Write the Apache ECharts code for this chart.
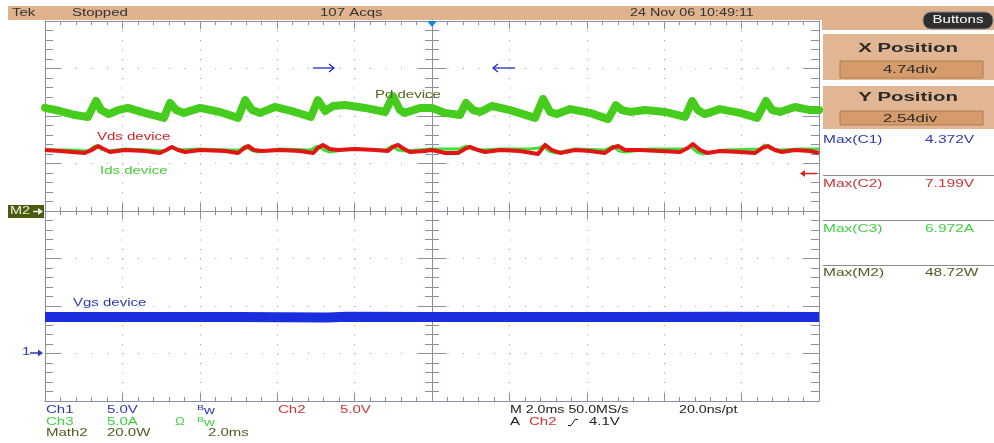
<!DOCTYPE html>
<html><head><meta charset="utf-8">
<script src="https://cdn.jsdelivr.net/npm/echarts@6/dist/echarts.min.js"></script>
<style>html,body{margin:0;padding:0;background:#fff;}#c{width:994px;height:443px;}</style>
</head><body><div id="c"></div>
<script>
// ---- data (time in ms, 2 ms/div, 10 div) ----
const pdTime = [0,0.39,0.78,1.11,1.32,1.45,1.65,1.89,2.14,2.58,3.07,3.23,3.39,3.59,4.01,4.52,4.99,5.17,5.35,5.56,5.94,6.46,6.87,7.05,7.24,7.44,7.75,8.27,8.79,8.99,9.17,9.30,9.69,10.00,10.34,10.72,10.88,11.06,11.24,11.55,12.02,12.66,12.87,13.05,13.23,13.57,14.08,14.55,14.75,14.91,15.12,15.50,16.02,16.54,16.72,16.87,17.05,17.44,17.96,18.40,18.63,18.79,18.99,19.38,19.77,20];
const pdWatts = [43.4,42.1,40.4,39.6,46.3,42.5,40.8,42.5,43.4,41.3,39.2,45.5,42.5,41.3,43.4,41.7,39.2,46.7,42.5,41.3,43.8,41.7,39.6,46.7,42.1,44.2,44.6,43.4,41.7,48.4,42.5,41.3,43.4,43.4,41.3,40.4,45.5,42.5,41.7,44.2,42.5,39.2,47.2,41.7,40.8,42.9,41.3,38.7,44.6,42.5,41.7,42.5,41.7,39.6,46.3,42.5,40.8,42.9,41.3,39.2,46.3,42.5,41.7,43.8,42.5,42.5];
const vdsTime = [0,0.39,1.03,1.21,1.37,1.52,1.68,2.07,2.58,2.97,3.13,3.28,3.44,3.62,4.01,4.65,4.99,5.12,5.25,5.40,5.61,6.07,6.59,6.93,7.05,7.18,7.36,7.57,8.01,8.53,8.86,8.99,9.12,9.28,9.43,9.82,10.00,10.34,10.67,10.85,10.98,11.19,11.37,11.76,12.27,12.74,12.92,13.10,13.31,13.70,14.08,14.47,14.65,14.81,14.99,15.37,15.89,16.41,16.61,16.74,16.93,17.11,17.44,17.96,18.35,18.53,18.68,18.86,19.04,19.38,19.77,20];
const vdsVolts = [6.42,6.32,6.11,6.42,6.84,6.53,6.21,6.42,6.32,6.11,6.42,6.74,6.42,6.21,6.42,6.32,6.11,6.53,6.84,6.42,6.32,6.42,6.32,6.11,6.63,6.95,6.53,6.42,6.53,6.42,6.32,6.74,6.95,6.53,6.21,6.32,6.42,6.11,6.11,6.53,6.74,6.42,6.21,6.42,6.32,6.00,6.95,6.42,6.11,6.42,6.32,6.11,6.63,6.84,6.42,6.42,6.32,6.21,6.63,7.05,6.42,6.11,6.32,6.21,6.11,6.63,6.84,6.42,6.21,6.42,6.32,6.11];
const idsTime = [0,0.65,1.11,1.29,1.45,1.63,2.07,2.71,3.10,3.26,3.41,4.01,4.78,5.04,5.17,5.32,5.50,6.07,6.85,7.05,7.21,7.36,7.88,8.79,8.97,9.12,9.30,9.95,10.34,10.72,10.88,11.03,11.24,11.76,12.53,12.76,12.87,13.02,13.20,13.70,14.47,14.68,14.83,15.01,15.63,16.54,16.67,16.85,17.00,17.57,18.48,18.60,18.76,18.99,19.51,20];
const idsAmps = [6.42,6.42,6.32,6.84,6.53,6.32,6.53,6.42,6.32,6.74,6.42,6.53,6.42,6.42,6.84,6.42,6.21,6.53,6.42,6.84,6.42,6.21,6.53,6.42,6.84,6.42,6.32,6.53,6.53,6.53,6.84,6.53,6.42,6.53,6.53,6.63,6.84,6.32,6.11,6.53,6.42,6.84,6.32,6.21,6.53,6.53,6.84,6.21,6.00,6.42,6.53,6.95,6.53,6.42,6.53,6.53];
const vgsTime = [0,2.5,5,7.3,7.8,10,12.5,15,17.5,20];
const vgsVolts = [3.85,3.84,3.85,3.80,3.87,3.85,3.84,3.85,3.86,3.85];
// channel scales (units per division) and ground offsets (divisions from centre)
const pdPerDiv = 20, pdOffset = 0;
const vdsPerDiv = 5, vdsOffset = 0;
const idsPerDiv = 5, idsOffset = 0;
const vgsPerDiv = 5, vgsOffset = -3;
const measNames = ['Max(C1)','Max(C2)','Max(C3)','Max(M2)'];
const measValues = ['4.372V','7.199V','6.972A','48.72W'];

const toDiv = (ts, vs, per, off) => ts.map((t, i) => [t, vs[i] / per + off]);

const FRAME = '#8a8fa2';
const DOT = '#a0a0a0';
const FONT = '"Liberation Sans", Arial, sans-serif';

function txt(s, x, y, fill, o) {
  o = o || {};
  const al = o.align || 'left';
  return {type:'text', x:x, y:y, scaleX:o.sx || 1.5, z:100, silent:true,
    style:{text:s, fill:fill, font:(o.bold ? 'bold ' : '') + (o.size || 10) + 'px ' + FONT,
      textAlign:al, align:al, textVerticalAlign:'middle', verticalAlign:'middle'}};
}
function rect(x, y, w, h, fill, stroke, r) {
  return {type:'rect', z:90, silent:true, shape:{x:x, y:y, width:w, height:h, r:r || 0},
    style:{fill:fill, stroke:stroke || null, lineWidth:1}};
}
function line(pts, color, w) {
  return {type:'polyline', z:100, silent:true, shape:{points:pts}, style:{stroke:color, lineWidth:w || 1, fill:null}};
}
function tri(pts, color) {
  return {type:'polygon', z:100, silent:true, shape:{points:pts}, style:{fill:color}};
}
function arrowR(x1, x2, y, c, filled) {
  return filled ? [line([[x1,y],[x2-4,y]], c, 1.5), tri([[x2-5,y-3.5],[x2,y],[x2-5,y+3.5]], c)]
                : [line([[x1,y],[x2,y]], c, 1.3), line([[x2-5,y-4],[x2,y],[x2-5,y+4]], c, 1.3)];
}
function arrowL(x1, x2, y, c, filled) {
  return filled ? [line([[x1+4,y],[x2,y]], c, 1.5), tri([[x1+5,y-3.5],[x1,y],[x1+5,y+3.5]], c)]
                : [line([[x1,y],[x2,y]], c, 1.3), line([[x1+5,y-4],[x1,y],[x1+5,y+4]], c, 1.3)];
}

const BLUE = '#2a3aae', RED = '#c83434', GREEN = '#3fcf3f', OLIVE = '#4e5e1e', DARK = '#333333';
const ORANGE = '#e0b38e', ORANGE2 = '#e3b693', ORANGE3 = '#d59b6b';

const graphic = [
  rect(8, 6, 986, 14, ORANGE),
  rect(822, 6, 172, 24, ORANGE),
  rect(923, 12, 70, 17, '#2f2f2f', '#8a8a8a', 8),
  txt('Buttons', 958, 20.5, '#ffffff', {align:'center', sx:1.5}),
  txt('Tek', 12, 13, DARK),
  txt('Stopped', 72, 13, DARK),
  txt('107 Acqs', 320, 13, DARK),
  txt('24 Nov 06 10:49:11', 630, 13, DARK, {sx:1.43}),
  tri([[427,21],[437,21],[432,27]], '#1a88d8'),
  // position boxes
  rect(823, 34, 171, 46, ORANGE2),
  rect(840, 61, 143, 17, ORANGE3, '#b07a4e'),
  txt('X Position', 908, 49, '#2a2a2a', {align:'center', bold:true, size:12, sx:1.7}),
  txt('4.74div', 910, 70, '#2a2a2a', {align:'center', size:10.5, sx:1.6}),
  rect(823, 86, 171, 43, ORANGE2),
  rect(840, 111, 143, 14, ORANGE3, '#b07a4e'),
  txt('Y Position', 908, 98, '#2a2a2a', {align:'center', bold:true, size:12, sx:1.7}),
  txt('2.54div', 910, 119, '#2a2a2a', {align:'center', size:10.5, sx:1.6}),
  // measurements
  line([[823,175.5],[994,175.5]], '#8c8c8c'),
  line([[823,220.5],[994,220.5]], '#8c8c8c'),
  line([[823,265.5],[994,265.5]], '#8c8c8c'),
  // plot labels
  txt('Pd device', 375, 95, '#55661e'),
  txt('Vds device', 97, 137, '#cc2222'),
  txt('Ids device', 100, 171, '#44cc33'),
  txt('Vgs device', 73, 303, BLUE),
  // markers
  rect(8, 205, 36, 13, '#4a5c10'),
  txt('M2', 10, 211.5, '#ecefdc', {sx:1.45}),
  ...arrowR(33, 43, 211.5, '#ecefdc', true),
  txt('1', 22, 352.5, BLUE),
  ...arrowR(30, 43, 353, BLUE, true),
  ...arrowR(313, 334, 68, '#2030c0', false),
  ...arrowL(493, 515, 68, '#2030c0', false),
  ...arrowL(800, 817, 173.5, '#dd2020', true),
  // bottom readout
  txt('Ch1', 46, 410, BLUE), txt('5.0V', 107, 410, BLUE),
  txt('B', 197, 408, BLUE, {size:7}), txt('w', 204, 411, BLUE),
  txt('Ch2', 278, 410, RED), txt('5.0V', 340, 410, RED),
  txt('Ch3', 46, 422, GREEN), txt('5.0A', 107, 422, GREEN),
  txt('Ω', 175, 422, GREEN, {sx:1.3}),
  txt('B', 197, 420, GREEN, {size:7}), txt('w', 204, 423, GREEN),
  txt('Math2', 46, 433, OLIVE), txt('20.0W', 107, 433, OLIVE), txt('2.0ms', 208, 433, OLIVE),
  txt('M 2.0ms 50.0MS/s', 510, 410, '#222222', {sx:1.42}),
  txt('20.0ns/pt', 679, 410, '#222222', {sx:1.42}),
  txt('A', 510, 422, '#222222'), txt('Ch2', 529, 422, RED),
  line([[568,425.5],[571,425.5],[575,419.5],[578,419.5]], '#222222', 1),
  txt('4.1V', 589, 422, '#222222')
];
measNames.forEach((n, i) => {
  const col = [BLUE, RED, GREEN, OLIVE][i];
  graphic.push(txt(n, 823, 140 + i * 44.5, col, {sx:1.55}));
  graphic.push(txt(measValues[i], 925, 140 + i * 44.5, col, {sx:1.55}));
});

const tickStyle = {color: FRAME, width: 1};
function xAx(extra) {
  return Object.assign({type:'value', min:0, max:20, interval:2, axisLabel:{show:false},
    splitLine:{show:false}}, extra);
}
function yAx(extra) {
  return Object.assign({type:'value', min:-4, max:4, interval:1, axisLabel:{show:false},
    splitLine:{show:false}}, extra);
}

const option = {
  animation:false,
  backgroundColor:'#ffffff',
  grid:{left:45, top:21, width:774, height:380, outerBoundsMode:'none'},
  xAxis:[
    xAx({position:'bottom', axisLine:{onZero:false, lineStyle:tickStyle},
      axisTick:{inside:true, length:8, lineStyle:tickStyle},
      minorTick:{show:true, splitNumber:5, length:4, lineStyle:tickStyle},
      splitLine:{show:true, lineStyle:{color:DOT, width:1, type:[1, 8.5]}}}),
    xAx({position:'top', axisLine:{onZero:false, lineStyle:tickStyle},
      axisTick:{inside:true, length:8, lineStyle:tickStyle},
      minorTick:{show:true, splitNumber:5, length:4, lineStyle:tickStyle}}),
    xAx({position:'bottom', axisLine:{onZero:true, onZeroAxisIndex:0, lineStyle:tickStyle},
      axisTick:{inside:true, length:8, lineStyle:tickStyle},
      minorTick:{show:true, splitNumber:5, length:4, lineStyle:tickStyle}}),
    xAx({position:'bottom', axisLine:{onZero:true, onZeroAxisIndex:0, lineStyle:tickStyle},
      axisTick:{inside:false, length:8, lineStyle:tickStyle},
      minorTick:{show:true, splitNumber:5, length:4, lineStyle:tickStyle}}),
    {type:'value', min:-10, max:10, show:false}
  ],
  yAxis:[
    yAx({position:'left', axisLine:{onZero:false, lineStyle:tickStyle},
      axisTick:{inside:true, length:16, lineStyle:tickStyle},
      minorTick:{show:true, splitNumber:5, length:8, lineStyle:tickStyle},
      splitLine:{show:true, lineStyle:{color:DOT, width:1, type:[1, 14.48]}}}),
    yAx({position:'right', axisLine:{onZero:false, lineStyle:tickStyle},
      axisTick:{inside:true, length:16, lineStyle:tickStyle},
      minorTick:{show:true, splitNumber:5, length:8, lineStyle:tickStyle}}),
    yAx({position:'left', axisLine:{onZero:true, onZeroAxisIndex:4, lineStyle:tickStyle},
      axisTick:{inside:true, length:14, lineStyle:tickStyle},
      minorTick:{show:true, splitNumber:5, length:7, lineStyle:tickStyle}}),
    yAx({position:'left', axisLine:{onZero:true, onZeroAxisIndex:4, lineStyle:tickStyle},
      axisTick:{inside:false, length:14, lineStyle:tickStyle},
      minorTick:{show:true, splitNumber:5, length:7, lineStyle:tickStyle}})
  ],
  series:[
    {name:'Pd device', type:'line', xAxisIndex:0, yAxisIndex:0, showSymbol:false, symbol:'none', z:3,
      data:toDiv(pdTime, pdWatts, pdPerDiv, pdOffset),
      lineStyle:{color:'#46cc1c', width:8, join:'round', cap:'round'}},
    {name:'Vgs device', type:'line', xAxisIndex:0, yAxisIndex:0, showSymbol:false, symbol:'none', z:3,
      data:toDiv(vgsTime, vgsVolts, vgsPerDiv, vgsOffset),
      lineStyle:{color:'#1a2ee0', width:10}},
    {name:'Ids device', type:'line', xAxisIndex:0, yAxisIndex:0, showSymbol:false, symbol:'none', z:4,
      data:toDiv(idsTime, idsAmps, idsPerDiv, idsOffset),
      lineStyle:{color:'#3ee03a', width:3, join:'round'}},
    {name:'Vds device', type:'line', xAxisIndex:0, yAxisIndex:0, showSymbol:false, symbol:'none', z:5,
      data:toDiv(vdsTime, vdsVolts, vdsPerDiv, vdsOffset),
      lineStyle:{color:'#e41414', width:4, join:'round'}}
  ],
  graphic:graphic
};
const chart = echarts.init(document.getElementById('c'), null, {renderer:'canvas'});
chart.setOption(option);
</script>
</body></html>
